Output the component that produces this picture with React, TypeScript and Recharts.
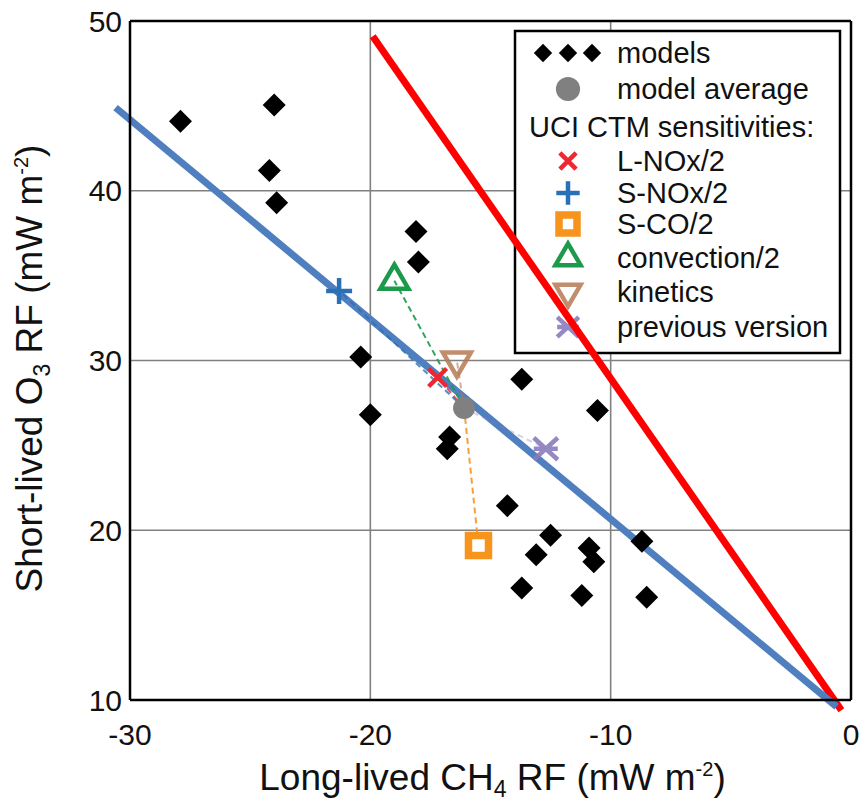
import React from "react";
import {
  ScatterChart,
  Scatter,
  XAxis,
  YAxis,
  CartesianGrid,
  ReferenceLine,
} from "recharts";

const FONT = "'Liberation Sans', Arial, Helvetica, sans-serif";

const xTicks = [-30, -20, -10, 0];
const yTicks = [10, 20, 30, 40, 50];

// models (black diamonds)
const modelX = [-27.9, -24.0, -24.2, -23.9, -18.1, -18.0, -20.4, -20.0, -13.7, -10.55, -16.7, -16.8, -14.3, -12.5, -13.1, -10.9, -10.7, -8.7, -13.7, -11.2, -8.5];
const modelY = [44.1, 45.05, 41.2, 39.3, 37.6, 35.8, 30.2, 26.8, 28.9, 27.05, 25.5, 24.8, 21.45, 19.7, 18.55, 18.95, 18.15, 19.35, 16.6, 16.15, 16.05];

// model average
const avgX = -16.1;
const avgY = 27.2;

// UCI CTM sensitivities
const sensNames = ["L-NOx/2", "S-NOx/2", "S-CO/2", "convection/2", "kinetics", "previous version"];
const sensX = [-17.2, -21.3, -15.5, -19.0, -16.4, -12.7];
const sensY = [29.0, 34.1, 19.1, 34.7, 30.0, 24.8];
const sensColors = ["#ee2630", "#2a70b6", "#f7941d", "#1b9a4a", "#b57a52", "#8a7bbd"];
const sensKinds = ["x", "plus", "square", "triangle", "down", "star"];
const linkOpacity = [0.8, 0.8, 0.9, 0.9, 0.6, 0.35];

// the two straight lines
const blueLine = [
  { x: -30.6, y: 44.9 },
  { x: -0.6, y: 9.6 },
];
const redLine = [
  { x: -19.9, y: 49.1 },
  { x: -0.4, y: 9.4 },
];

const models = modelX.map((x, i) => ({ x, y: modelY[i] }));
const average = [{ x: avgX, y: avgY }];

function Marker({ kind, cx, cy, color, k = 1 }: any) {
  if (kind === "diamond") {
    const s = 11.5 * k;
    return <path d={`M${cx},${cy - s}L${cx + s},${cy}L${cx},${cy + s}L${cx - s},${cy}Z`} fill="#000" />;
  }
  if (kind === "circle") return <circle cx={cx} cy={cy} r={11 * k} fill="#808080" />;
  if (kind === "x") {
    const s = 9 * k;
    return (
      <path d={`M${cx - s},${cy - s}L${cx + s},${cy + s}M${cx - s},${cy + s}L${cx + s},${cy - s}`} stroke={color} strokeWidth={4.5} fill="none" />
    );
  }
  if (kind === "plus") {
    const s = 13 * k;
    return <path d={`M${cx - s},${cy}L${cx + s},${cy}M${cx},${cy - s}L${cx},${cy + s}`} stroke={color} strokeWidth={4.5} fill="none" />;
  }
  if (kind === "square") {
    const s = 10 * k;
    return <rect x={cx - s} y={cy - s} width={2 * s} height={2 * s} fill="#fff" stroke={color} strokeWidth={7.5} />;
  }
  if (kind === "triangle") {
    const w = 14 * k;
    return <path d={`M${cx},${cy - 16 * k}L${cx + w},${cy + 8 * k}L${cx - w},${cy + 8 * k}Z`} fill="none" stroke={color} strokeWidth={4.5} strokeLinejoin="miter" />;
  }
  if (kind === "down") {
    const w = 14 * k;
    return <path d={`M${cx},${cy + 16 * k}L${cx + w},${cy - 8 * k}L${cx - w},${cy - 8 * k}Z`} fill="none" stroke={color} strokeWidth={4.5} opacity={0.85} />;
  }
  if (kind === "star") {
    const sx = 12 * k;
    const sy = 11 * k;
    return (
      <path
        d={`M${cx - sx},${cy - sy}L${cx + sx},${cy + sy}M${cx - sx},${cy + sy}L${cx + sx},${cy - sy}M${cx - sx},${cy}L${cx + sx},${cy}`}
        stroke={color}
        strokeWidth={4.5}
        fill="none"
        opacity={0.9}
      />
    );
  }
  return <g />;
}

const legendY = [53, 89, 127, 161, 193, 224, 258, 292, 327];

function LegendBox() {
  return (
    <g fontFamily={FONT} fontSize={29} fill="#111">
      <rect x={515} y={31} width={325} height={322} fill="#fff" stroke="#000" strokeWidth={2.5} />
      <Marker kind="diamond" cx={543} cy={legendY[0]} k={0.8} />
      <Marker kind="diamond" cx={568} cy={legendY[0]} k={0.8} />
      <Marker kind="diamond" cx={592} cy={legendY[0]} k={0.8} />
      <text x={617} y={legendY[0]} dy="0.36em">models</text>
      <Marker kind="circle" cx={568} cy={legendY[1]} k={1.1} />
      <text x={617} y={legendY[1]} dy="0.36em">model average</text>
      <text x={529} y={legendY[2]} dy="0.36em">UCI CTM sensitivities:</text>
      {sensNames.map((name, i) => (
        <g key={name}>
          <Marker kind={sensKinds[i]} cx={568} cy={legendY[i + 3]} color={sensColors[i]} k={0.9} />
          <text x={617} y={legendY[i + 3]} dy="0.36em">{name}</text>
        </g>
      ))}
    </g>
  );
}

function XTitle(props: any) {
  const vb = props.viewBox || { x: 130, y: 700, width: 721 };
  return (
    <text x={vb.x + vb.width / 2 + 2} y={vb.y + 90} textAnchor="middle" fontFamily={FONT} fontSize={37} fill="#111">
      Long-lived CH<tspan dy={7} fontSize={23}>4</tspan>
      <tspan dy={-7}> RF (mW m</tspan>
      <tspan dy={-14} fontSize={20}>-2</tspan>
      <tspan dy={14}>)</tspan>
    </text>
  );
}

function YTitle(props: any) {
  const vb = props.viewBox || { x: 50, y: 21, height: 679 };
  const cx = vb.x - 8;
  const cy = vb.y + vb.height / 2 + 8;
  return (
    <text x={cx} y={cy} transform={`rotate(-90 ${cx} ${cy})`} textAnchor="middle" fontFamily={FONT} fontSize={37} fill="#111">
      Short-lived O<tspan dy={8} fontSize={23}>3</tspan>
      <tspan dy={-8}> RF (mW m</tspan>
      <tspan dy={-14} fontSize={20}>-2</tspan>
      <tspan dy={14}>)</tspan>
    </text>
  );
}

export default function App() {
  return (
    <div style={{ width: 865, height: 804, background: "#fff" }}>
      <style>{"body{margin:0}"}</style>
      <ScatterChart width={865} height={804} margin={{ top: 21, right: 14, bottom: 44, left: 50 }}>
        <CartesianGrid stroke="#808080" strokeWidth={1.6} />
        <XAxis
          type="number"
          dataKey="x"
          domain={[-30, 0]}
          ticks={xTicks}
          allowDataOverflow
          height={60}
          tickLine={false}
          tickMargin={18}
          axisLine={{ stroke: "#000", strokeWidth: 2.5 }}
          tick={{ fill: "#111", fontSize: 30, fontFamily: FONT }}
          label={{ content: (p: any) => <XTitle {...p} /> }}
        />
        <YAxis
          type="number"
          dataKey="y"
          domain={[10, 50]}
          ticks={yTicks}
          allowDataOverflow
          width={80}
          tickLine={false}
          axisLine={{ stroke: "#000", strokeWidth: 2.5 }}
          tick={{ fill: "#111", fontSize: 30, fontFamily: FONT }}
          label={{ content: (p: any) => <YTitle {...p} /> }}
        />
        <ReferenceLine y={50} stroke="#000" strokeWidth={2.5} />
        <ReferenceLine x={0} stroke="#000" strokeWidth={2.5} />
        <LegendBox />
        {sensNames.map((name, i) => (
          <Scatter
            key={"link-" + name}
            data={[average[0], { x: sensX[i], y: sensY[i] }]}
            line={{ stroke: sensColors[i], strokeWidth: 2, strokeDasharray: "6 4", strokeOpacity: linkOpacity[i] }}
            shape={() => <g />}
            isAnimationActive={false}
          />
        ))}
        <Scatter data={models} shape={(p: any) => <Marker kind="diamond" cx={p.cx} cy={p.cy} />} isAnimationActive={false} />
        {sensNames.map((name, i) => (
          <Scatter
            key={name}
            name={name}
            data={[{ x: sensX[i], y: sensY[i] }]}
            shape={(p: any) => <Marker kind={sensKinds[i]} cx={p.cx} cy={p.cy} color={sensColors[i]} />}
            isAnimationActive={false}
          />
        ))}
        <Scatter data={average} shape={(p: any) => <Marker kind="circle" cx={p.cx} cy={p.cy} />} isAnimationActive={false} />
        <ReferenceLine segment={redLine} stroke="#ff0000" strokeWidth={7} ifOverflow="visible" />
        <ReferenceLine segment={blueLine} stroke="#4f7fbf" strokeWidth={7} ifOverflow="visible" />
      </ScatterChart>
    </div>
  );
}
